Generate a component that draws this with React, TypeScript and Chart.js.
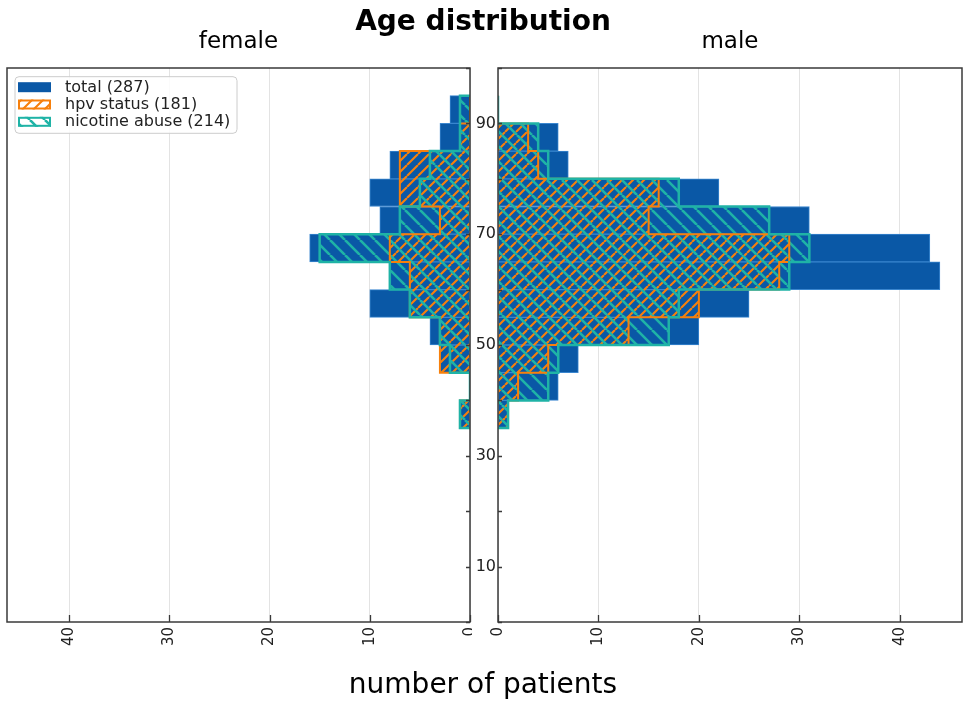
import React, { useEffect, useRef } from 'react';
import { Chart, registerables } from 'chart.js';

Chart.register(...registerables);

// ---------------- data ----------------
const ageBinEdges = [35, 40, 45, 50, 55, 60, 65, 70, 75, 80, 85, 90, 95];

const femaleTotal = [1, 0, 3, 4, 10, 8, 16, 9, 10, 8, 3, 2];
const femaleHpv = [1, 0, 3, 3, 6, 6, 8, 3, 7, 7, 1, 0];
const femaleNicotine = [1, 0, 2, 3, 6, 8, 15, 7, 5, 4, 1, 1];

const maleTotal = [1, 6, 8, 20, 25, 44, 43, 31, 22, 7, 6, 0];
const maleHpv = [1, 2, 5, 13, 20, 28, 29, 15, 16, 4, 3, 0];
const maleNicotine = [1, 5, 6, 17, 18, 29, 31, 27, 18, 5, 4, 0];

const seriesNames = ['total', 'hpv status', 'nicotine abuse'];
const panelTitles = ['female', 'male'];
const xTickValues = [0, 10, 20, 30, 40];
const yTickValues = [0, 10, 20, 30, 40, 50, 60, 70, 80, 90, 100];
const yLabelValues = [10, 30, 50, 70, 90];
const xMax = 46.2;
const yMin = 0;
const yMax = 100;

// ---------------- styles ----------------
const BLUE = '#0a58a6';
const BLUE_EDGE = '#3a86cf';
const ORANGE = '#f7800c';
const TEAL = '#1fb3a6';
const FRAME = '#3a3a3a';
const FONT = 'DejaVu Sans';

const sum = (a: number[]) => a.reduce((s, v) => s + v, 0);

function makeHatch(color: string, size: number, lw: number, dir: '/' | '\\'): CanvasPattern {
  const c = document.createElement('canvas');
  c.width = size;
  c.height = size;
  const g = c.getContext('2d')!;
  g.strokeStyle = color;
  g.lineWidth = lw;
  g.beginPath();
  for (const o of [-size, 0, size]) {
    if (dir === '/') {
      g.moveTo(o, size);
      g.lineTo(o + size, 0);
    } else {
      g.moveTo(o, 0);
      g.lineTo(o + size, size);
    }
  }
  g.stroke();
  return g.createPattern(c, 'repeat')!;
}

function barPoints(vals: number[]) {
  return vals
    .map((v, i) => ({ x: v, y: (ageBinEdges[i] + ageBinEdges[i + 1]) / 2 }))
    .filter((p) => p.x > 0);
}

function stepPoints(vals: number[]) {
  const pts: { x: number; y: number }[] = [{ x: 0, y: ageBinEdges[0] }];
  vals.forEach((v, i) => {
    pts.push({ x: v, y: ageBinEdges[i] });
    pts.push({ x: v, y: ageBinEdges[i + 1] });
  });
  pts.push({ x: 0, y: ageBinEdges[ageBinEdges.length - 1] });
  return pts;
}

const framePlugin = {
  id: 'frame',
  afterDatasetsDraw(chart: any, _args: any, opts: any) {
    const { ctx, chartArea: a, scales } = chart;
    ctx.save();
    ctx.strokeStyle = FRAME;
    ctx.lineWidth = 1.3;
    ctx.beginPath();
    xTickValues.forEach((v) => {
      const px = Math.round(scales.x.getPixelForValue(v)) + 0.5;
      ctx.moveTo(px, a.bottom);
      ctx.lineTo(px, a.bottom - 7);
    });
    yTickValues.forEach((v) => {
      const py = Math.round(scales.y.getPixelForValue(v)) + 0.5;
      if (opts.ySide === 'right') {
        ctx.moveTo(a.right, py);
        ctx.lineTo(a.right - 4, py);
      } else {
        ctx.moveTo(a.left, py);
        ctx.lineTo(a.left + 4, py);
      }
    });
    ctx.stroke();
    ctx.lineWidth = 1.5;
    ctx.strokeRect(a.left, a.top, a.right - a.left, a.bottom - a.top);
    ctx.restore();
  },
};

const legendPlugin = {
  id: 'hatchLegend',
  afterDraw(chart: any, _args: any, opts: any) {
    if (!opts || !opts.items) return;
    const { ctx, chartArea: a } = chart;
    const x0 = a.left + 8;
    const y0 = a.top + 8.7;
    const w = 222;
    const h = 56.6;
    const r = 4;
    ctx.save();
    ctx.beginPath();
    ctx.moveTo(x0 + r, y0);
    ctx.lineTo(x0 + w - r, y0);
    ctx.quadraticCurveTo(x0 + w, y0, x0 + w, y0 + r);
    ctx.lineTo(x0 + w, y0 + h - r);
    ctx.quadraticCurveTo(x0 + w, y0 + h, x0 + w - r, y0 + h);
    ctx.lineTo(x0 + r, y0 + h);
    ctx.quadraticCurveTo(x0, y0 + h, x0, y0 + h - r);
    ctx.lineTo(x0, y0 + r);
    ctx.quadraticCurveTo(x0, y0, x0 + r, y0);
    ctx.closePath();
    ctx.fillStyle = 'rgba(255,255,255,0.85)';
    ctx.fill();
    ctx.strokeStyle = '#cccccc';
    ctx.lineWidth = 1;
    ctx.stroke();
    opts.items.forEach((it: any, i: number) => {
      const cy = y0 + 10.5 + i * 17.3;
      const sx = x0 + 3;
      const sw = 33;
      const sh = 10;
      const sy = cy - 5;
      ctx.fillStyle = it.fill;
      ctx.fillRect(sx, sy, sw, sh);
      if (it.stroke) {
        ctx.strokeStyle = it.stroke;
        ctx.lineWidth = 2;
        ctx.strokeRect(sx + 1, sy + 1, sw - 2, sh - 2);
      }
      ctx.fillStyle = '#222';
      ctx.font = `16px "${FONT}"`;
      ctx.textBaseline = 'middle';
      ctx.textAlign = 'left';
      ctx.fillText(it.text, x0 + 50, cy + 0.5);
    });
    ctx.restore();
  },
};

function buildChart(
  canvas: HTMLCanvasElement,
  isFemale: boolean,
  total: number[],
  hpv: number[],
  nic: number[]
) {
  const orangeHatch = makeHatch(ORANGE, 11, 2.1, '/');
  const tealHatch = makeHatch(TEAL, 15, 2.6, '\\');
  const barCommon = {
    type: 'bar' as const,
    indexAxis: 'y' as const,
    grouped: false,
    barPercentage: 1,
    categoryPercentage: 1,
  };
  const lineCommon = {
    type: 'line' as const,
    pointRadius: 0,
    fill: false,
    tension: 0,
    borderJoinStyle: 'miter' as const,
  };
  const legendItems = isFemale
    ? [
        { text: `${seriesNames[0]} (${sum(femaleTotal) + sum(maleTotal)})`, fill: BLUE },
        { text: `${seriesNames[1]} (${sum(femaleHpv) + sum(maleHpv)})`, fill: orangeHatch, stroke: ORANGE },
        { text: `${seriesNames[2]} (${sum(femaleNicotine) + sum(maleNicotine)})`, fill: tealHatch, stroke: TEAL },
      ]
    : null;

  return new Chart(canvas, {
    type: 'bar',
    data: {
      datasets: [
        {
          ...barCommon,
          label: seriesNames[0],
          data: barPoints(total),
          backgroundColor: BLUE,
          borderColor: BLUE_EDGE,
          borderWidth: 1,
          order: 5,
        },
        {
          ...barCommon,
          label: seriesNames[1],
          data: barPoints(hpv),
          backgroundColor: orangeHatch,
          borderWidth: 0,
          order: 4,
        },
        {
          ...barCommon,
          label: seriesNames[2],
          data: barPoints(nic),
          backgroundColor: tealHatch,
          borderWidth: 0,
          order: 3,
        },
        {
          ...lineCommon,
          label: seriesNames[1] + ' outline',
          data: stepPoints(hpv),
          borderColor: ORANGE,
          borderWidth: 2,
          order: 2,
        },
        {
          ...lineCommon,
          label: seriesNames[2] + ' outline',
          data: stepPoints(nic),
          borderColor: TEAL,
          borderWidth: 2.5,
          order: 1,
        },
      ] as any,
    },
    options: {
      animation: false,
      responsive: false,
      indexAxis: 'y',
      layout: {
        padding: { left: isFemale ? 7 : 0, right: isFemale ? 2 : 4, top: 68, bottom: 43 },
      },
      plugins: {
        legend: { display: false },
        tooltip: { enabled: false },
        title: { display: false },
        frame: { ySide: isFemale ? 'right' : 'left' },
        hatchLegend: { items: legendItems },
      } as any,
      scales: {
        x: {
          type: 'linear',
          min: 0,
          max: xMax,
          reverse: isFemale,
          offset: false,
          afterBuildTicks: (s: any) => {
            s.ticks = xTickValues.map((v) => ({ value: v }));
          },
          afterFit: (s: any) => {
            s.height = 40;
            s.paddingLeft = 0;
            s.paddingRight = 0;
          },
          grid: { color: '#e3e3e3', lineWidth: 1, drawTicks: false },
          border: { display: false },
          ticks: {
            minRotation: 90,
            maxRotation: 90,
            autoSkip: false,
            padding: 5,
            color: '#222',
            font: { family: FONT, size: 15 },
          },
        },
        y: {
          type: 'linear',
          min: yMin,
          max: yMax,
          offset: false,
          display: !isFemale,
          position: 'left',
          afterBuildTicks: (s: any) => {
            s.ticks = yTickValues.map((v) => ({ value: v }));
          },
          afterFit: (s: any) => {
            s.width = isFemale ? 0 : 26;
            s.paddingTop = 0;
            s.paddingBottom = 0;
          },
          grid: { display: false, drawTicks: false, offset: false },
          border: { display: false },
          ticks: {
            padding: 2,
            autoSkip: false,
            color: '#222',
            font: { family: FONT, size: 16 },
            callback: (v: any) => (yLabelValues.includes(Number(v)) ? String(v) : ''),
          },
        },
      } as any,
    },
    plugins: [framePlugin, legendPlugin],
  } as any);
}

export default function App() {
  const femaleRef = useRef<HTMLCanvasElement>(null);
  const maleRef = useRef<HTMLCanvasElement>(null);

  useEffect(() => {
    const f = buildChart(femaleRef.current!, true, femaleTotal, femaleHpv, femaleNicotine);
    const m = buildChart(maleRef.current!, false, maleTotal, maleHpv, maleNicotine);
    return () => {
      f.destroy();
      m.destroy();
    };
  }, []);

  const textBase: React.CSSProperties = {
    position: 'absolute',
    fontFamily: FONT,
    color: '#000',
    lineHeight: 1,
    whiteSpace: 'nowrap',
    textAlign: 'center',
  };

  return (
    <div style={{ position: 'absolute', left: 0, top: 0, width: 966, height: 705, background: '#fff' }}>
      <canvas
        ref={femaleRef}
        width={472}
        height={705}
        style={{ position: 'absolute', left: 0, top: 0 }}
      />
      <canvas
        ref={maleRef}
        width={494}
        height={705}
        style={{ position: 'absolute', left: 472, top: 0 }}
      />
      <div style={{ ...textBase, left: 0, width: 966, top: 7, fontSize: 28, fontWeight: 'bold' }}>
        Age distribution
      </div>
      <div style={{ ...textBase, left: 7, width: 463, top: 28.5, fontSize: 23 }}>{panelTitles[0]}</div>
      <div style={{ ...textBase, left: 498, width: 464, top: 28.5, fontSize: 23 }}>{panelTitles[1]}</div>
      <div style={{ ...textBase, left: 0, width: 966, top: 670, fontSize: 28 }}>number of patients</div>
    </div>
  );
}
